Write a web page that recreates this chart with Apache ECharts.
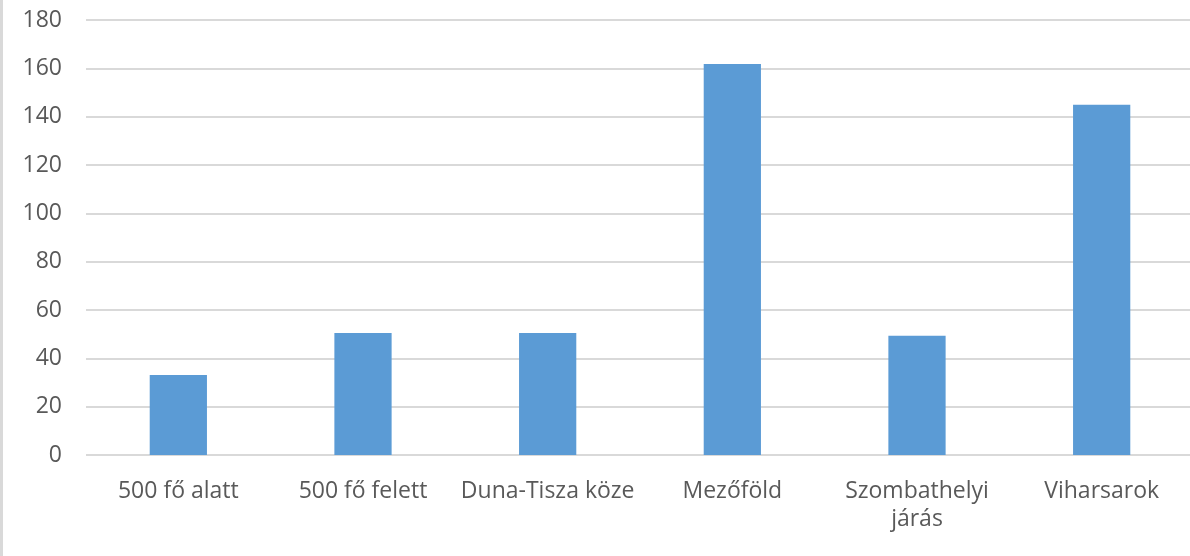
<!DOCTYPE html>
<html>
<head>
<meta charset="utf-8">
<script src="https://cdn.jsdelivr.net/npm/echarts@6/dist/echarts.min.js"></script>
<style>
  html, body { margin: 0; padding: 0; background: #fff; overflow: hidden; }
  /* bal oldali szürke keret, a rajzterület jobbra kicsit kilóg */
  #main { width: 1197px; height: 556px; border-left: 3px solid #d9d9d9; }
</style>
</head>
<body>
<div id="main"></div>
<script>
// kategóriák és értékek
var categories = ['500 fő alatt', '500 fő felett', 'Duna-Tisza köze', 'Mezőföld', 'Szombathelyi\njárás', 'Viharsarok'];
var values = [33.1, 50.5, 50.5, 161.8, 49.3, 144.9];
var yMin = 0, yMax = 180, yStep = 20;

var chart = echarts.init(document.getElementById('main'));
var option = {
  animation: false,
  grid: { left: 83, right: 6, top: 20, bottom: 101, containLabel: false },
  xAxis: {
    type: 'category',
    data: categories,
    axisLine: { show: false },
    axisTick: { show: false },
    axisLabel: {
      color: '#595959',
      fontFamily: 'Open Sans',
      fontSize: 23,
      lineHeight: 28,
      margin: 22,
      interval: 0
    }
  },
  yAxis: {
    type: 'value',
    min: yMin,
    max: yMax,
    interval: yStep,
    axisLine: { show: false },
    axisTick: { show: false },
    axisLabel: {
      color: '#595959',
      fontFamily: 'Open Sans',
      fontSize: 23,
      margin: 24
    },
    splitLine: { lineStyle: { color: '#d9d9d9', width: 2 } }
  },
  series: [{
    type: 'bar',
    data: values,
    barWidth: '31%',
    itemStyle: { color: '#5b9bd5' }
  }]
};
chart.setOption(option);
</script>
</body>
</html>
